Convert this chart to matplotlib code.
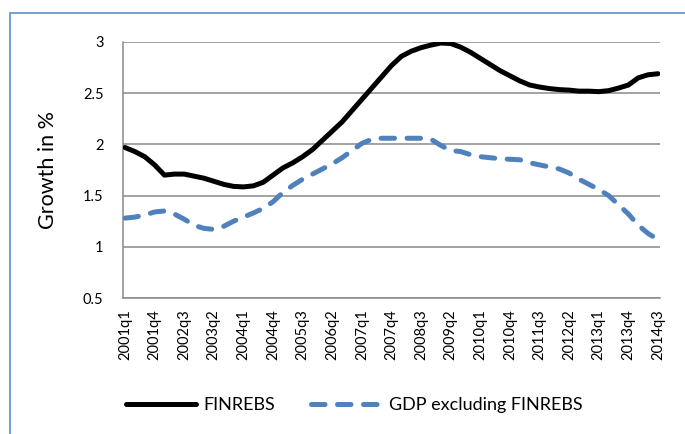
import matplotlib
matplotlib.use("Agg")
import matplotlib.pyplot as plt
from matplotlib.patches import Rectangle
import numpy as np

plt.rcParams['font.family'] = ['Lato', 'DejaVu Sans']

# Quarters 2001q1 .. 2014q3
quarters = [f"{y}q{q}" for y in range(2001, 2015) for q in range(1, 5)][:55]

finrebs = [1.97, 1.93, 1.88, 1.80, 1.70, 1.71, 1.71, 1.69, 1.67, 1.64,
           1.61, 1.59, 1.585, 1.595, 1.63, 1.70, 1.77, 1.82, 1.88, 1.95,
           2.04, 2.13, 2.22, 2.33, 2.44, 2.55, 2.66, 2.77, 2.86, 2.91,
           2.945, 2.97, 2.99, 2.985, 2.95, 2.90, 2.84, 2.78, 2.72, 2.67,
           2.62, 2.58, 2.56, 2.545, 2.535, 2.53, 2.52, 2.52, 2.515, 2.525,
           2.55, 2.58, 2.65, 2.68, 2.69]

gdp_ex = [1.28, 1.29, 1.31, 1.34, 1.35, 1.32, 1.27, 1.21, 1.18, 1.17,
          1.20, 1.25, 1.29, 1.33, 1.375, 1.44, 1.53, 1.60, 1.66, 1.71,
          1.76, 1.81, 1.87, 1.94, 2.01, 2.05, 2.06, 2.06, 2.06, 2.06,
          2.06, 2.05, 1.99, 1.94, 1.93, 1.90, 1.88, 1.87, 1.86, 1.855,
          1.85, 1.82, 1.80, 1.78, 1.76, 1.72, 1.66, 1.61, 1.56, 1.50,
          1.41, 1.32, 1.21, 1.13, 1.07]

series_names = ["FINREBS", "GDP excluding FINREBS"]
y_ticks = [0.5, 1, 1.5, 2, 2.5, 3]
y_tick_labels = ["0.5", "1", "1.5", "2", "2.5", "3"]
tick_step = 3

fig = plt.figure(figsize=(6.85, 4.34), dpi=100)
ax = fig.add_axes([123/685, 1-298/434, 537/685, 256/434])

x = np.arange(len(quarters))
grid_col = "#898989"

ax.plot(x, finrebs, color="black", lw=3.6, solid_capstyle="round",
        solid_joinstyle="round", label=series_names[0], zorder=3)
ax.plot(x, gdp_ex, color="#4F81BD", lw=3.6, dashes=(2.7, 2.5),
        dash_capstyle="round", label=series_names[1], zorder=3)

ax.set_xlim(-0.2, len(quarters) - 1 + 0.2)
ax.set_ylim(0.5, 3)
ax.set_yticks(y_ticks)
ax.set_yticklabels(y_tick_labels)
ax.set_xticks(x[::tick_step])
ax.set_xticklabels(quarters[::tick_step], rotation=90)

ax.tick_params(axis='both', length=0, labelsize=10.5, colors="black")
ax.tick_params(axis='y', pad=14)
ax.tick_params(axis='x', pad=8)

ax.yaxis.grid(True, color=grid_col, lw=1.1)
ax.set_axisbelow(True)
for s in ["top", "right"]:
    ax.spines[s].set_visible(False)
for s in ["left", "bottom"]:
    ax.spines[s].set_color(grid_col)
    ax.spines[s].set_linewidth(1.1)

ax.set_ylabel("Growth in %", fontsize=15.5)
ax.yaxis.set_label_coords(-0.121, 0.5)

leg = fig.legend(loc="center", bbox_to_anchor=(354/685, 1-405/434),
                 ncol=2, frameon=False, fontsize=13, handlelength=3.9,
                 handletextpad=0.4, columnspacing=2.0)

fig.patches.append(Rectangle((10/685, -0.1), 1.2, 1.1 - 13/434,
                             transform=fig.transFigure, fill=False,
                             edgecolor="#5B8FD0", lw=1.2))

fig.savefig("out.png", dpi=100)
